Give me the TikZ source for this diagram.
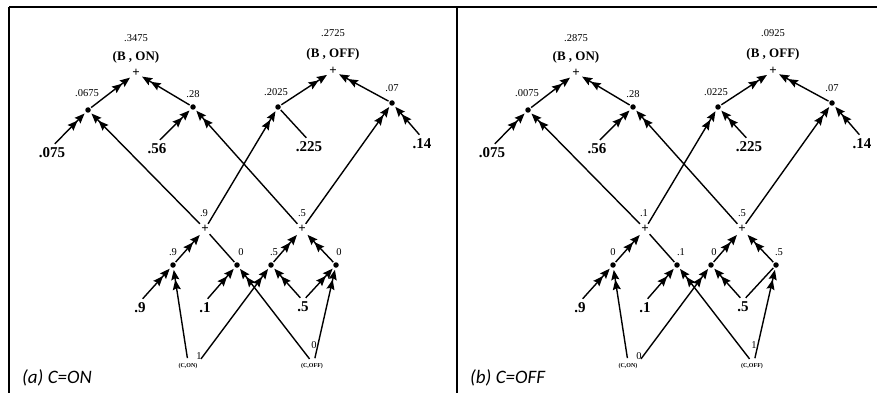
\documentclass[tikz,border=0pt]{standalone}
\usepackage{fontspec}
\setmainfont{Liberation Serif}
\newfontfamily\capfont{Carlito}
\usetikzlibrary{arrows.meta}

\begin{document}
\begin{tikzpicture}[x=1pt,y=-1pt,
    dotnode/.style={circle,fill=black,inner sep=0pt,minimum size=5.5pt,outer sep=1.2pt},
    sumnode/.style={inner sep=0pt,outer sep=1.5pt,font=\bfseries\fontsize{13}{13}\selectfont},
    val/.style={inner sep=0.5pt,font=\fontsize{10.5}{10.5}\selectfont},
    inval/.style={inner sep=1pt,font=\bfseries\fontsize{15}{15}\selectfont},
    bname/.style={inner sep=1pt,font=\bfseries\fontsize{13}{13}\selectfont},
    cname/.style={inner sep=1pt,font=\bfseries\fontsize{6}{6}\selectfont},
    capt/.style={inner sep=0pt,font=\capfont\itshape\fontsize{19}{19}\selectfont},
    wire/.style={line width=1.4pt},
    dbl/.style={wire,shorten >=1pt,
      -{Stealth[length=10pt,width=8pt,inset=1.5pt]Stealth[length=10pt,width=8pt,inset=1.5pt]}},
    feed/.style={shorten <=4pt},
    frame/.style={line width=1.8pt}
  ]
  \useasboundingbox (0,0) rectangle (893,393);
  %% Frame: top rule, left rule, divider
  \draw[frame] (9,7) -- (877,7);
  \draw[frame] (9,7) -- (9,393);
  \draw[frame] (457,7) -- (457,393);
  %% Captions
  \node[capt,anchor=base west] (capa) at (22,383) {(a) C=ON};
  \node[capt,anchor=base west] (capb) at (470,383) {(b) C=OFF};
  %% Both panels: name/shift/(B,ON)/(B,OFF)/4 upper/2 sums/4 lower/C labels/styles
  \foreach \pn/\dx/\vbon/\vboff/\va/\vb/\vc/\vd/\vp/\vq/\ve/\vf/\vg/\vh/\von/\voff/\sthree/\seight in {
      a/0/.3475/.2725/.0675/.28/.2025/.07/.9/.5/.9/0/.5/0/1/0/wire/dbl,
      b/440/.2875/.0925/.0075/.28/.0225/.07/.1/.5/0/.1/0/.5/0/1/dbl/wire}{
  \begin{scope}[xshift=\dx pt]
    %% Top sums
    \node[sumnode] (bon\pn) at (136,73) {+};
    \node[sumnode] (boff\pn) at (333,71) {+};
    \node[bname] (bonname\pn) at (136,57) {(B , ON)};
    \node[bname] (boffname\pn) at (333,54) {(B , OFF)};
    \node[val] (bonval\pn) at (136,38) {\vbon};
    \node[val] (boffval\pn) at (333,33) {\vboff};
    %% Upper products
    \node[dotnode] (da\pn) at (88,110) {};
    \node[dotnode] (db\pn) at (193,107) {};
    \node[dotnode] (dc\pn) at (278,107) {};
    \node[dotnode] (dd\pn) at (392,103) {};
    \node[val] (vala\pn) at (87,93) {\va};
    \node[val] (valb\pn) at (193,94) {\vb};
    \node[val] (valc\pn) at (276,92) {\vc};
    \node[val] (vald\pn) at (392,88) {\vd};
    \node[inval] (ia\pn) at (52,153) {.075};
    \node[inval] (ib\pn) at (157,149) {.56};
    \node[inval] (ic\pn) at (309,147) {.225};
    \node[inval] (id\pn) at (422,144) {.14};
    %% Lower sums
    \node[sumnode] (pa\pn) at (205,229) {+};
    \node[sumnode] (pb\pn) at (302,229) {+};
    \node[val] (valpa\pn) at (204,213) {\vp};
    \node[val] (valpb\pn) at (302,213) {\vq};
    %% Lower products
    \node[dotnode] (de\pn) at (173,265) {};
    \node[dotnode] (df\pn) at (237,265) {};
    \node[dotnode] (dg\pn) at (271,265) {};
    \node[dotnode] (dh\pn) at (336,265) {};
    \node[val] (vale\pn) at (173,252) {\ve};
    \node[val] (valf\pn) at (241,252) {\vf};
    \node[val] (valg\pn) at (274,252) {\vg};
    \node[val] (valh\pn) at (339,252) {\vh};
    \node[inval] (je\pn) at (140,308) {.9};
    \node[inval] (jf\pn) at (205,308) {.1};
    \node[inval] (jg\pn) at (303,307) {.5};
    \node[cname] (con\pn) at (188,366) {(C,ON)};
    \node[cname] (coff\pn) at (312,366) {(C,OFF)};
    %% Connectors, top half
    \draw[dbl] (da\pn) -- (bon\pn);
    \draw[dbl] (db\pn) -- (bon\pn);
    \draw[dbl] (dc\pn) -- (boff\pn);
    \draw[dbl] (dd\pn) -- (boff\pn);
    \draw[dbl,feed] (ia\pn.north) -- (da\pn);
    \draw[dbl,feed] (ib\pn.north) -- (db\pn);
    \draw[\sthree,feed] (ic\pn.north) -- (dc\pn);
    \draw[dbl,feed] (id\pn.north) -- (dd\pn);
    \draw[dbl] (pa\pn) -- (da\pn);
    \draw[dbl] (pa\pn) -- (dc\pn);
    \draw[dbl] (pb\pn) -- (db\pn);
    \draw[dbl] (pb\pn) -- (dd\pn);
    %% Connectors, bottom half
    \draw[dbl] (de\pn) -- (pa\pn);
    \draw[wire] (df\pn) -- (pa\pn);
    \draw[dbl] (dg\pn) -- (pb\pn);
    \draw[dbl] (dh\pn) -- (pb\pn);
    \draw[dbl,feed] (je\pn.north) -- (de\pn);
    \draw[dbl,feed] (jf\pn.north) -- (df\pn);
    \draw[dbl,feed] (jg\pn.north) -- (dg\pn);
    \draw[\seight,feed] (jg\pn.north) -- (dh\pn);
    \draw[dbl,feed] (con\pn.north) -- (de\pn);
    \draw[dbl,feed] (con\pn.north east) -- node[val,pos=.06,left] (onval\pn) {\von} (dg\pn);
    \draw[dbl,feed] (coff\pn.north) -- (df\pn);
    \draw[dbl,feed] ([xshift=2pt]coff\pn.north) -- node[val,pos=.18,left] (offval\pn) {\voff} (dh\pn);
  \end{scope}
  }
\end{tikzpicture}
\end{document}
